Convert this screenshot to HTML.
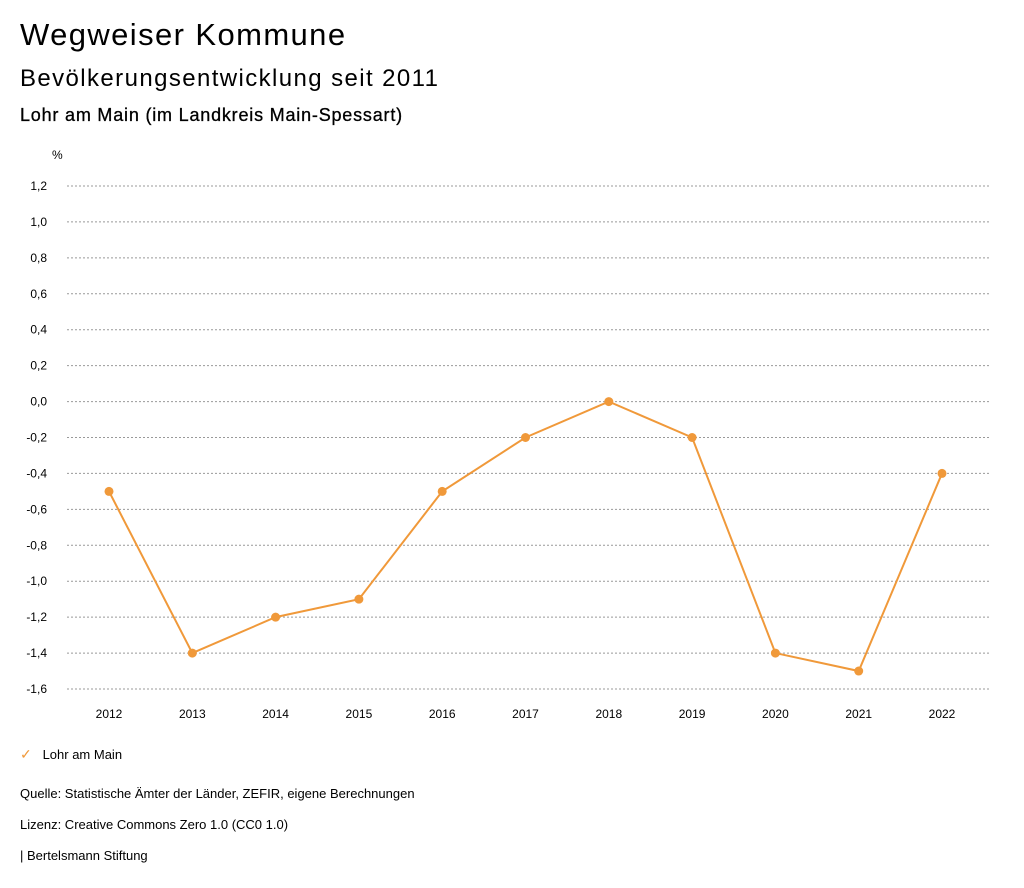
<!DOCTYPE html>
<html><head><meta charset="utf-8"><style>
body{margin:0;width:1024px;height:888px;background:#fff;font-family:"Liberation Sans",sans-serif;color:#000;position:relative;overflow:hidden}
.t{position:absolute;left:20px;white-space:nowrap}
</style></head><body>
<div class="t" style="top:17px;font-size:31px;letter-spacing:1.4px">Wegweiser Kommune</div>
<div class="t" style="top:65px;font-size:24px;letter-spacing:1.4px">Bevölkerungsentwicklung seit 2011</div>
<div class="t" style="top:105px;font-size:18px;letter-spacing:0.8px;font-weight:500;-webkit-text-stroke:0.3px #000">Lohr am Main (im Landkreis Main-Spessart)</div>
<svg id="chart" width="1024" height="888" style="position:absolute;left:0;top:0" font-family="Liberation Sans, sans-serif"></svg>
<div class="t" style="top:746px;font-size:13px"><span style="color:#f0993a;font-size:14px">✓</span>&nbsp;&nbsp; Lohr am Main</div>
<div class="t" style="top:786px;font-size:13px">Quelle: Statistische Ämter der Länder, ZEFIR, eigene Berechnungen</div>
<div class="t" style="top:817px;font-size:13px">Lizenz: Creative Commons Zero 1.0 (CC0 1.0)</div>
<div class="t" style="top:848px;font-size:13px">| Bertelsmann Stiftung</div>
<script>
const years=["2012","2013","2014","2015","2016","2017","2018","2019","2020","2021","2022"];
const values=[-0.5,-1.4,-1.2,-1.1,-0.5,-0.2,0.0,-0.2,-1.4,-1.5,-0.4];
const yTicks=[1.2,1.0,0.8,0.6,0.4,0.2,0,-0.2,-0.4,-0.6,-0.8,-1.0,-1.2,-1.4,-1.6];
const NS="http://www.w3.org/2000/svg";
const svg=document.getElementById('chart');
const yMin=-1.6,yMax=1.2,yTop=186,yBot=689;
const y=v=>yBot-(v-yMin)/(yMax-yMin)*(yBot-yTop);
const x=i=>109+i*(942-109)/(years.length-1);
function mk(t,a){const e=document.createElementNS(NS,t);for(const k in a)e.setAttribute(k,a[k]);svg.appendChild(e);return e;}
let u=mk('text',{x:52,y:159,'font-size':12});u.textContent='%';


yTicks.forEach(v=>{
 const l=mk('line',{x1:67,x2:990,y1:y(v),y2:y(v),stroke:'#999','stroke-dasharray':'2,2','stroke-width':1});
 
 
 const t=mk('text',{x:47,y:y(v)+4,'font-size':12,'text-anchor':'end'});
 t.textContent=v.toFixed(1).replace('.',',').replace('-0,0','0,0');
 
 
});
years.forEach((yr,i)=>{
 const t=mk('text',{x:x(i),y:718,'font-size':12,'text-anchor':'middle'});t.textContent=yr;
 
 
});
const p=mk('polyline',{points:values.map((v,i)=>x(i)+','+y(v)).join(' '),fill:'none',stroke:'#f0993a','stroke-width':2});


values.forEach((v,i)=>{
 const c=mk('circle',{cx:x(i),cy:y(v),r:4.5,fill:'#f0993a'});
 
 
});
</script>
</body></html>
